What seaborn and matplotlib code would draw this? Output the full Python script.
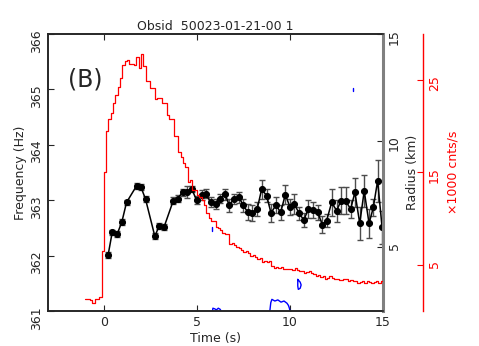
import numpy as np
import pandas as pd
import matplotlib
matplotlib.use("Agg")
import matplotlib.pyplot as plt
import seaborn as sns

# burst oscillation frequency track (Hz)
freq_t = [0.23, 0.45, 0.72, 0.97, 1.22, 1.76, 1.99, 2.24, 2.74, 2.97, 3.24, 3.73,
          3.96, 4.23, 4.46, 4.73, 4.98, 5.25, 5.47, 5.74, 6.0, 6.24, 6.51, 6.74,
          7.0, 7.26, 7.49, 7.72, 7.97, 8.24, 8.48, 8.75, 8.98, 9.25, 9.5, 9.75,
          10.0, 10.23, 10.5, 10.75, 10.98, 11.25, 11.49, 11.74, 11.97, 12.24,
          12.51, 12.74, 12.99, 13.26, 13.49, 13.75, 13.99, 14.25, 14.48, 14.71,
          14.95]
freq_hz = [362.01, 362.42, 362.39, 362.61, 362.96, 363.26, 363.24, 363.02, 362.35,
           362.53, 362.52, 362.99, 363.03, 363.14, 363.15, 363.20, 363.00, 363.09,
           363.12, 362.96, 362.94, 363.03, 363.11, 362.91, 363.03, 363.05, 362.91,
           362.79, 362.77, 362.84, 363.20, 363.08, 362.77, 362.91, 362.78, 363.10,
           362.88, 362.93, 362.76, 362.64, 362.84, 362.82, 362.78, 362.56, 362.63,
           362.96, 362.81, 362.99, 362.99, 362.84, 363.14, 362.58, 363.17, 362.58,
           362.87, 363.35, 362.51]
freq_err = [0.05, 0.05, 0.05, 0.05, 0.05, 0.05, 0.05, 0.05, 0.05, 0.05, 0.05, 0.06,
            0.06, 0.07, 0.11, 0.06, 0.07, 0.09, 0.08, 0.09, 0.09, 0.08, 0.10, 0.12,
            0.09, 0.10, 0.12, 0.15, 0.14, 0.12, 0.17, 0.12, 0.16, 0.14, 0.14, 0.17,
            0.14, 0.18, 0.12, 0.13, 0.17, 0.14, 0.14, 0.15, 0.12, 0.25, 0.20, 0.24,
            0.24, 0.16, 0.26, 0.29, 0.29, 0.27, 0.16, 0.38, 0.30]

# light curve, 0.125 s bins starting at -1 s (x1000 counts/s)
lc_start = -1.0
lc_bin = 0.125
lc_rate = [1.25, 1.25, 1.2, 0.9, 1.3, 1.3, 1.55, 6.5,
           15.0, 19.5, 20.8, 21.4, 22.5, 23.4, 24.3, 25.2,
           26.6, 27.1, 27.2, 26.8, 26.7, 26.6, 27.5, 26.3,
           27.8, 26.5, 24.9, 24.9, 24.1, 24.1, 23.0, 23.1,
           23.1, 22.5, 22.5, 21.2, 20.8, 20.8, 18.9, 18.9,
           17.2, 16.7, 16.0, 15.6, 14.0, 14.2, 13.1, 13.1,
           12.6, 12.4, 12.0, 11.5, 10.6, 10.1, 9.7, 9.7,
           9.1, 9.0, 8.8, 8.4, 8.3, 8.3, 7.3, 7.4,
           7.1, 6.9, 6.8, 6.6, 6.4, 6.5, 6.25, 6.0,
           6.1, 5.9, 5.6, 5.7, 5.3, 5.4, 5.3, 5.4,
           4.9, 4.7, 4.8, 4.7, 4.75, 4.5, 4.6, 4.5,
           4.6, 4.4, 4.7, 4.4, 4.3, 4.35, 4.15, 4.2,
           4.3, 4.1, 4.0, 3.8, 3.9, 3.7, 3.75, 3.5,
           3.6, 3.8, 3.6, 3.5, 3.5, 3.4, 3.4, 3.5,
           3.5, 3.3, 3.35, 3.2, 3.25, 3.0, 3.1, 3.2,
           3.0, 3.2, 3.15, 3.0, 3.1, 3.2, 3.0, 3.25]

# stray power-spectrum contour pieces (time, Hz)
cont1_t = [8.92, 8.97, 9.03, 9.19, 9.35, 9.52, 9.68, 9.84, 9.92, 9.97, 10.0]
cont1_f = [361.0, 361.15, 361.21, 361.18, 361.2, 361.16, 361.18, 361.14, 361.1, 361.05, 361.0]
cont2_t = [10.42, 10.55, 10.6, 10.55, 10.45, 10.42, 10.42]
cont2_f = [361.57, 361.52, 361.47, 361.41, 361.39, 361.45, 361.57]
cont3_t = [5.79, 5.79]
cont3_f = [362.44, 362.52]
cont4_t = [13.4, 13.4]
cont4_f = [364.97, 365.02]
cont5_t = [5.84, 5.86, 5.95, 6.05, 6.15, 6.25, 6.3]
cont5_f = [361.0, 361.05, 361.04, 361.02, 361.05, 361.03, 361.0]

sns.set_style("ticks")
plt.rcParams.update({
    "font.family": ["DejaVu Sans"],
    "font.size": 9,
    "xtick.direction": "in",
    "ytick.direction": "in",
    "axes.linewidth": 1.2,
})

fig = plt.figure(figsize=(4.79, 3.46), dpi=100)
ax = fig.add_axes([0.1002, 0.1012, 0.6994, 0.8005])

# frequency track
df = pd.DataFrame({"t": freq_t, "f": freq_hz})
ax.errorbar(freq_t, freq_hz, yerr=freq_err, fmt="none", ecolor="0.3",
            elinewidth=1.0, capsize=2.2, capthick=1.0, zorder=2)
sns.lineplot(data=df, x="t", y="f", ax=ax, color="black", marker="o",
             markersize=4.3, markeredgecolor="black", markeredgewidth=0.8,
             linewidth=1.1, sort=False, zorder=3)

for ct, cf in [(cont1_t, cont1_f), (cont2_t, cont2_f), (cont3_t, cont3_f),
               (cont4_t, cont4_f), (cont5_t, cont5_f)]:
    ax.plot(ct, cf, color="blue", lw=1.0, zorder=2)

ax.set_xlim(-3, 15)
ax.set_ylim(361, 366)
ax.set_xticks([0, 5, 10, 15])
ax.set_yticks([361, 362, 363, 364, 365, 366])
ax.tick_params(axis="x", top=True, length=4)
ax.tick_params(axis="y", labelrotation=90, length=4)
ax.set_xlabel("Time (s)", labelpad=2)
ax.set_ylabel("Frequency (Hz)", labelpad=2)
ax.set_title("Obsid  50023-01-21-00 1", fontsize=9, pad=3)
ax.text(-1.0, 365.17, "(B)", ha="center", va="center", fontsize=17)

# radius axis
ax2 = ax.twinx()
ax2.set_ylim(2, 15)
ax2.set_yticks([5, 10, 15])
ax2.tick_params(axis="y", labelrotation=90, length=4)
ax2.spines["right"].set_color("gray")
ax2.spines["right"].set_linewidth(2.2)
ax2.set_ylabel("Radius (km)", labelpad=4)

# count-rate axis
ax3 = ax.twinx()
ax3.spines["right"].set_position(("axes", 1.119))
ax3.spines["right"].set_color("red")
ax3.spines["right"].set_linewidth(1.0)
for s in ["left", "top", "bottom"]:
    ax3.spines[s].set_visible(False)
lc_t = [lc_start + i * lc_bin for i in range(len(lc_rate) + 1)]
lc_df = pd.DataFrame({"t": lc_t, "rate": lc_rate + [lc_rate[-1]]})
sns.lineplot(data=lc_df, x="t", y="rate", ax=ax3, color="red", linewidth=0.9,
             drawstyle="steps-post", sort=False)
ax3.set_ylim(0, 30)
ax3.set_yticks([5, 15, 25])
ax3.tick_params(axis="y", colors="red", labelrotation=90, length=4)
ax3.set_ylabel("\u00d71000 cnts/s", color="red", labelpad=4)
ax3.set_xlim(-3, 15)

fig.savefig("out.png", dpi=100)
